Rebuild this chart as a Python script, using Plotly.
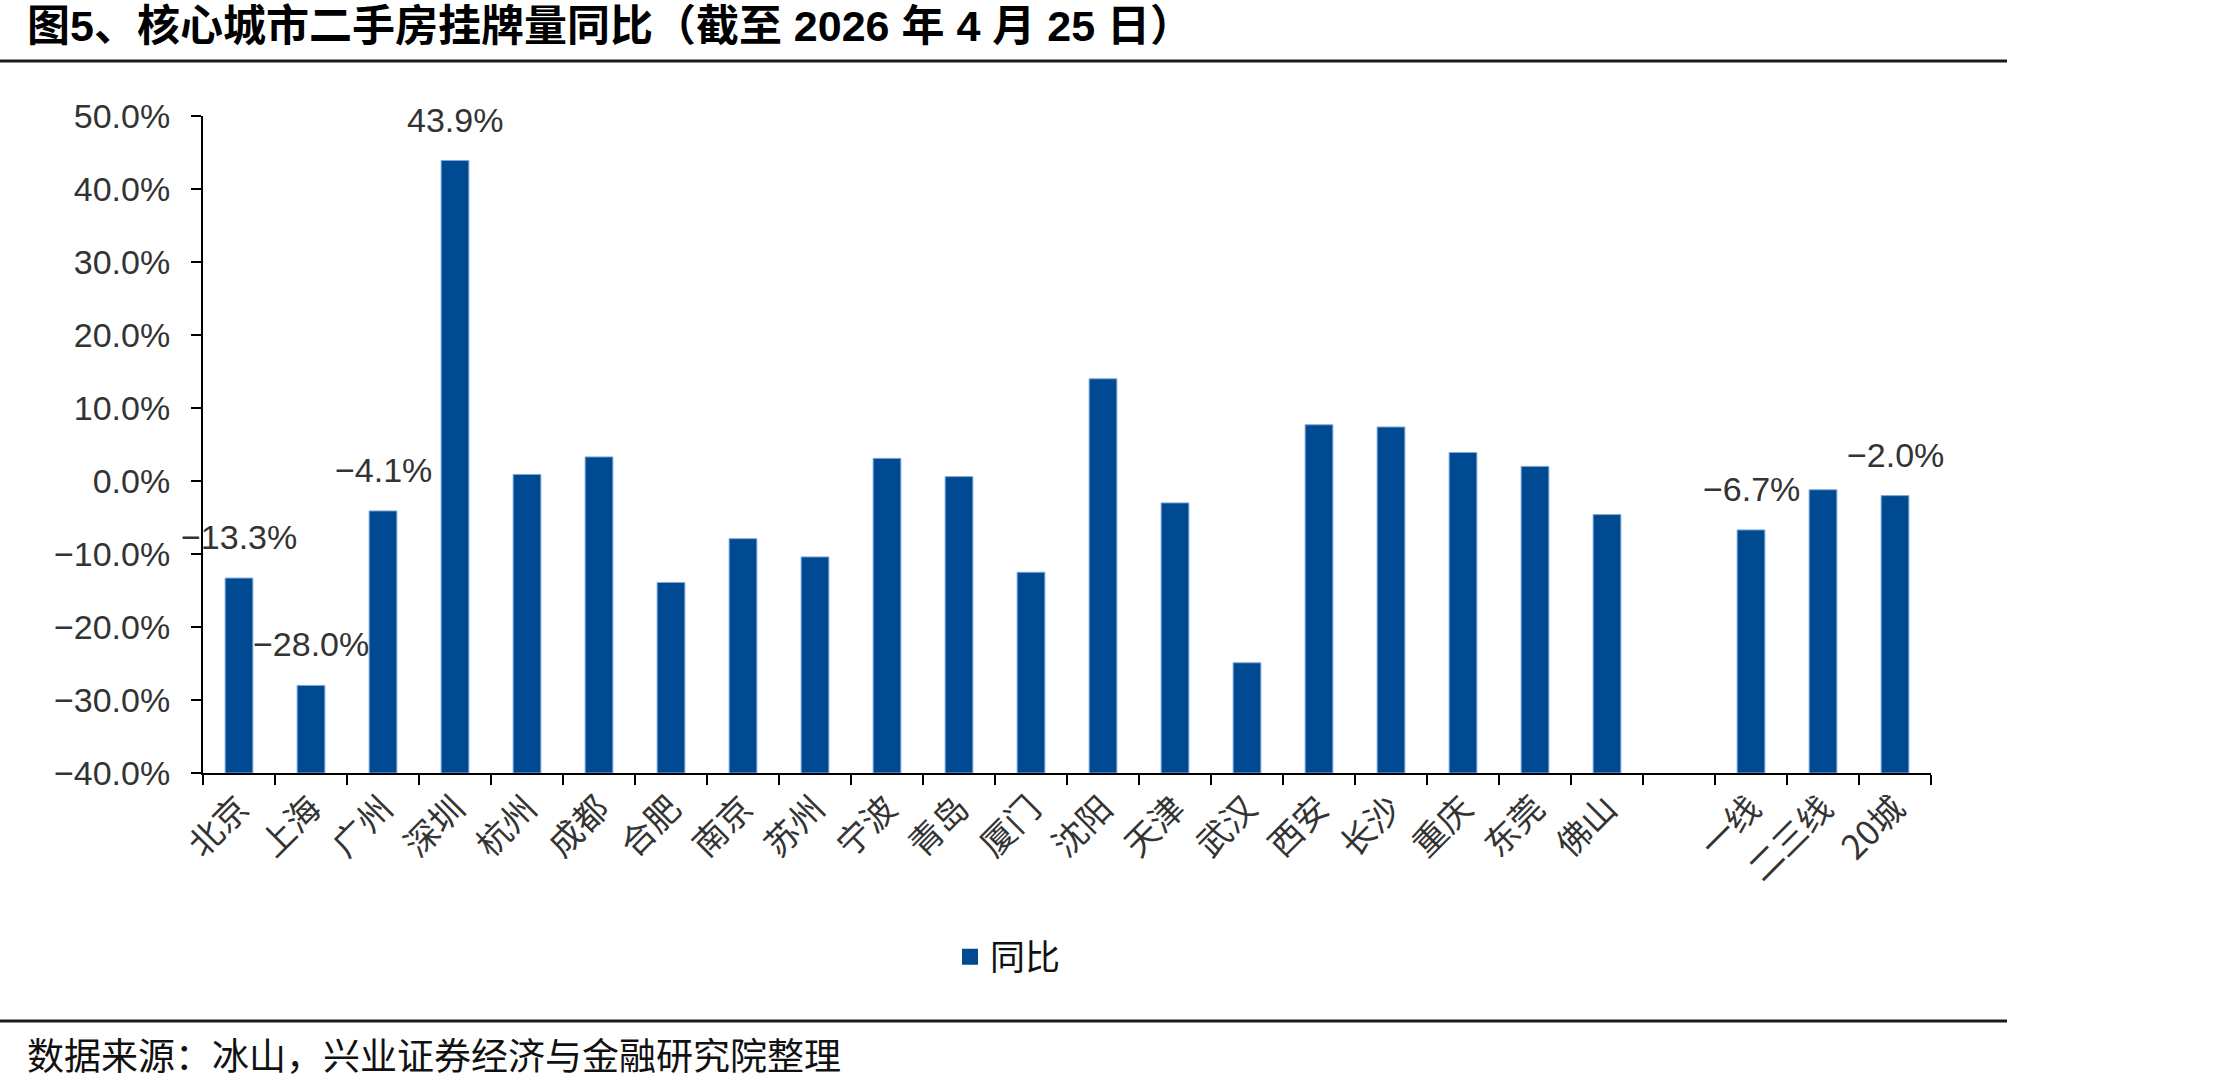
import plotly.graph_objects as go

# ---- data ----
cities = ["北京", "上海", "广州", "深圳", "杭州", "成都", "合肥", "南京", "苏州", "宁波",
          "青岛", "厦门", "沈阳", "天津", "武汉", "西安", "长沙", "重庆", "东莞", "佛山",
          " ", "一线", "二三线", "20城"]
yoy = [-13.3, -28.0, -4.1, 43.9, 0.9, 3.3, -13.9, -7.9, -10.4, 3.1,
       0.6, -12.5, 14.0, -3.0, -24.9, 7.7, 7.4, 3.9, 2.0, -4.6,
       None, -6.7, -1.2, -2.0]
labeled = ["北京", "上海", "广州", "深圳", "一线", "20城"]
y_ticks = [-40, -30, -20, -10, 0, 10, 20, 30, 40, 50]

title_text = "<b>图5、核心城市二手房挂牌量同比（截至 2026 年 4 月 25 日）</b>"
source_text = "数据来源：冰山，兴业证券经济与金融研究院整理"
series_name = "同比"

W, H = 2221, 1083
L, R, T, B = 203, 1931, 116, 773
YMIN, YMAX = -40, 50


def xp(px):
    return (px - L) / (R - L)


def yp(py):
    return (B - py) / (B - T)


def pct(v):
    return f"{v:.1f}%".replace("-", "\u2212")


BAR_COLOR = "#004A91"
TXT = "#333333"
FONT = "Liberation Sans, Arial, Noto Sans CJK SC, sans-serif"
CJK = "Noto Sans CJK SC, Liberation Sans, sans-serif"

heights = [None if v is None else v - YMIN for v in yoy]

fig = go.Figure()
fig.add_trace(go.Bar(
    x=cities, y=heights, base=YMIN,
    marker=dict(color=BAR_COLOR, line=dict(color="#7fa8dc", width=1)),
    width=0.385, showlegend=False, hoverinfo="skip",
))
fig.add_trace(go.Scatter(
    x=[cities[0]], y=[None], mode="markers", name=series_name,
    marker=dict(symbol="square", size=16, color=BAR_COLOR),
    showlegend=True, hoverinfo="skip",
))

annotations = []
for c, v in zip(cities, yoy):
    if c in labeled and v is not None:
        annotations.append(dict(
            x=c, y=v, xref="x", yref="y", yshift=41,
            text=pct(v), showarrow=False,
            font=dict(family=FONT, size=34, color=TXT),
            xanchor="center", yanchor="middle",
        ))

annotations.append(dict(
    x=xp(25), y=yp(1054), xref="paper", yref="paper",
    text=source_text, showarrow=False, xanchor="left", yanchor="middle",
    font=dict(family=CJK, size=37, color="#111111"),
))
annotations.append(dict(
    x=xp(25), y=yp(26), xref="paper", yref="paper",
    text=title_text, showarrow=False, xanchor="left", yanchor="middle",
    font=dict(family=FONT, size=43, color="#000000"),
))

shapes = [
    dict(type="line", xref="paper", yref="paper", x0=xp(0), x1=xp(2007),
         y0=yp(61), y1=yp(61), line=dict(color="#1a1a1a", width=3)),
    dict(type="line", xref="paper", yref="paper", x0=xp(0), x1=xp(2007),
         y0=yp(1021), y1=yp(1021), line=dict(color="#1a1a1a", width=3)),
]

fig.update_layout(
    width=W, height=H, autosize=False,
    margin=dict(l=L, r=W - R, t=T, b=H - B, pad=0),
    paper_bgcolor="white", plot_bgcolor="white",
    showlegend=True,
    legend=dict(orientation="h", x=xp(1008), y=yp(957), xanchor="center", yanchor="middle",
                font=dict(family=CJK, size=35, color="#111111"),
                itemsizing="trace", itemwidth=30, bgcolor="rgba(0,0,0,0)"),
    annotations=annotations, shapes=shapes,
    bargap=0.615,
)

fig.update_xaxes(
    type="category", categoryorder="array", categoryarray=cities,
    range=[-0.5, len(cities) - 0.5], autorange=False,
    tickangle=-45, tickson="boundaries", ticks="outside", ticklen=10, tickwidth=2,
    tickcolor="#000000", showline=True, linecolor="#000000", linewidth=2,
    showgrid=False, zeroline=False,
    tickfont=dict(family=CJK, size=34, color=TXT),
)
fig.update_yaxes(
    range=[YMIN, YMAX], autorange=False,
    tickmode="array", tickvals=y_ticks, ticktext=[pct(t) for t in y_ticks],
    ticks="outside", ticklen=10, tickwidth=2, tickcolor="#000000",
    showline=True, linecolor="#000000", linewidth=2,
    showgrid=False, zeroline=False,
    tickfont=dict(family=FONT, size=34, color=TXT),
    ticklabelstandoff=14,
)

fig.write_html("out.html")
